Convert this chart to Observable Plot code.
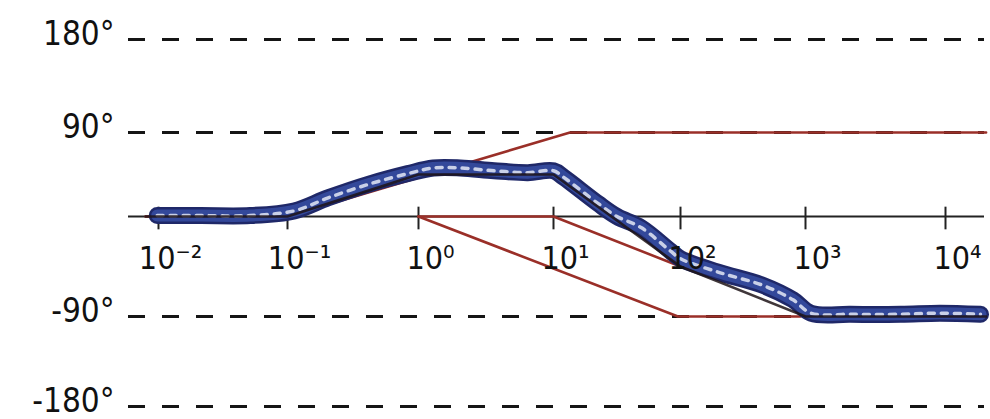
<!DOCTYPE html>
<html><head><meta charset="utf-8">
<script src="https://cdn.jsdelivr.net/npm/d3@7"></script>
<script src="https://cdn.jsdelivr.net/npm/@observablehq/plot@0.6"></script>
<style>
html,body{margin:0;padding:0;background:#fff;}
#chart svg{display:block;}
</style>
</head><body><div id="chart"></div>
<script>
// Decade ticks along the frequency axis
const decades = [0.01, 0.1, 1, 10, 100, 1000, 10000];
const decadeLabels = ["10⁻²", "10⁻¹", "10⁰", "10¹", "10²", "10³", "10⁴"];
// Phase reference levels (dashed) and their labels
const phaseLevels = [180, 90, -90, -180];
const phaseLabels = ["180°", "90°", "-90°", "-180°"];

// Blue: sketched actual phase (log10 frequency, degrees)
const blueLogF = [-2.01, -1.67, -1.29, -0.95, -0.69, -0.37, -0.08, 0.11, 0.31, 0.56, 0.81, 1.0, 1.08, 1.35, 1.5, 1.69, 1.92, 2.0, 2.3, 2.66, 2.9, 3.04, 3.32, 3.68, 3.96, 4.25];
const bluePhase = [1, 1, 1, 6, 20, 35, 46, 52, 52, 49, 47, 49, 42, 14, 0, -10, -31, -38, -50, -62, -75, -87, -88, -88, -87, -88];

// Red asymptotes (log10 frequency, degrees)
const zeroLogF = [-2.1, -1, 1.13, 4.29];
const zeroPhase = [0, 0, 90, 90];
const pole1LogF = [0, 1.98, 2.96];
const pole1Phase = [0, -90, -90];
const pole2LogF = [0, 1, 2];
const pole2Phase = [0, 0, -45];
// Dark: summed asymptotic phase
const sumLogF = [-2.1, -1, 0, 1, 2, 3, 4.29];
const sumPhase = [0, 0, 45, 45, -45, -90, -90];

const pts = (lf, ph) => lf.map((l, i) => ({f: Math.pow(10, l), p: ph[i]}));
const blue = pts(blueLogF, bluePhase);
const zeroA = pts(zeroLogF, zeroPhase);
const pole1 = pts(pole1LogF, pole1Phase);
const pole2 = pts(pole2LogF, pole2Phase);
const sum = pts(sumLogF, sumPhase);
const xTicks = decades.map((d, i) => ({f: d, label: decadeLabels[i]}));
const yTicks = phaseLevels.map((d, i) => ({p: d, label: phaseLabels[i]}));

const RED = "#9a2f28";
const FONT = "'Liberation Sans Narrow','DejaVu Sans Condensed','Liberation Sans',sans-serif";

const chart = Plot.plot({
  width: 990,
  height: 419,
  marginLeft: 128,
  marginRight: 6,
  marginTop: 0,
  marginBottom: 0,
  style: {background: "#fff", fontFamily: FONT},
  x: {type: "log", domain: decades, range: [158, 287, 418, 553, 680, 805, 945], axis: null},
  y: {type: "linear", domain: [-180, -90, 0, 90, 180], range: [406, 316, 216, 132, 39], axis: null},
  marks: [
    Plot.ruleY(phaseLevels, {stroke: "#151515", strokeWidth: 3, strokeDasharray: "17,17"}),
    Plot.ruleY([0], {stroke: "#222", strokeWidth: 1.8}),
    Plot.ruleX(decades, {x: d => d, y1: -12, y2: 10, stroke: "#222", strokeWidth: 2}),
    Plot.line(zeroA, {x: "f", y: "p", stroke: RED, strokeWidth: 2.6}),
    Plot.line(pole1, {x: "f", y: "p", stroke: RED, strokeWidth: 2.6}),
    Plot.line(pole2, {x: "f", y: "p", stroke: RED, strokeWidth: 2.6}),
    Plot.line(blue, {x: "f", y: "p", stroke: "#1f2868", strokeWidth: 17, curve: "catmull-rom", strokeLinecap: "round", strokeLinejoin: "round"}),
    Plot.line(blue, {x: "f", y: "p", stroke: "#33489a", strokeWidth: 12, curve: "catmull-rom", strokeLinecap: "round", strokeLinejoin: "round"}),
    Plot.line(blue, {x: "f", y: "p", stroke: "#e4e9f6", strokeWidth: 3.5, strokeDasharray: "6,7", curve: "catmull-rom", opacity: 0.85}),
    Plot.line(sum, {x: "f", y: "p", stroke: "#1e1418", strokeWidth: 2.6, opacity: 0.85}),
    Plot.text(xTicks, {x: "f", y: () => 0, text: "label", dy: 42, dx: 12, fontSize: 32, fill: "#111", fontFamily: FONT}),
    Plot.text(yTicks, {y: "p", text: "label", frameAnchor: "left", textAnchor: "end", dx: -14, dy: -5, fontSize: 33, fill: "#111", fontFamily: FONT})
  ]
});
document.getElementById("chart").appendChild(chart);
</script>
</body></html>
